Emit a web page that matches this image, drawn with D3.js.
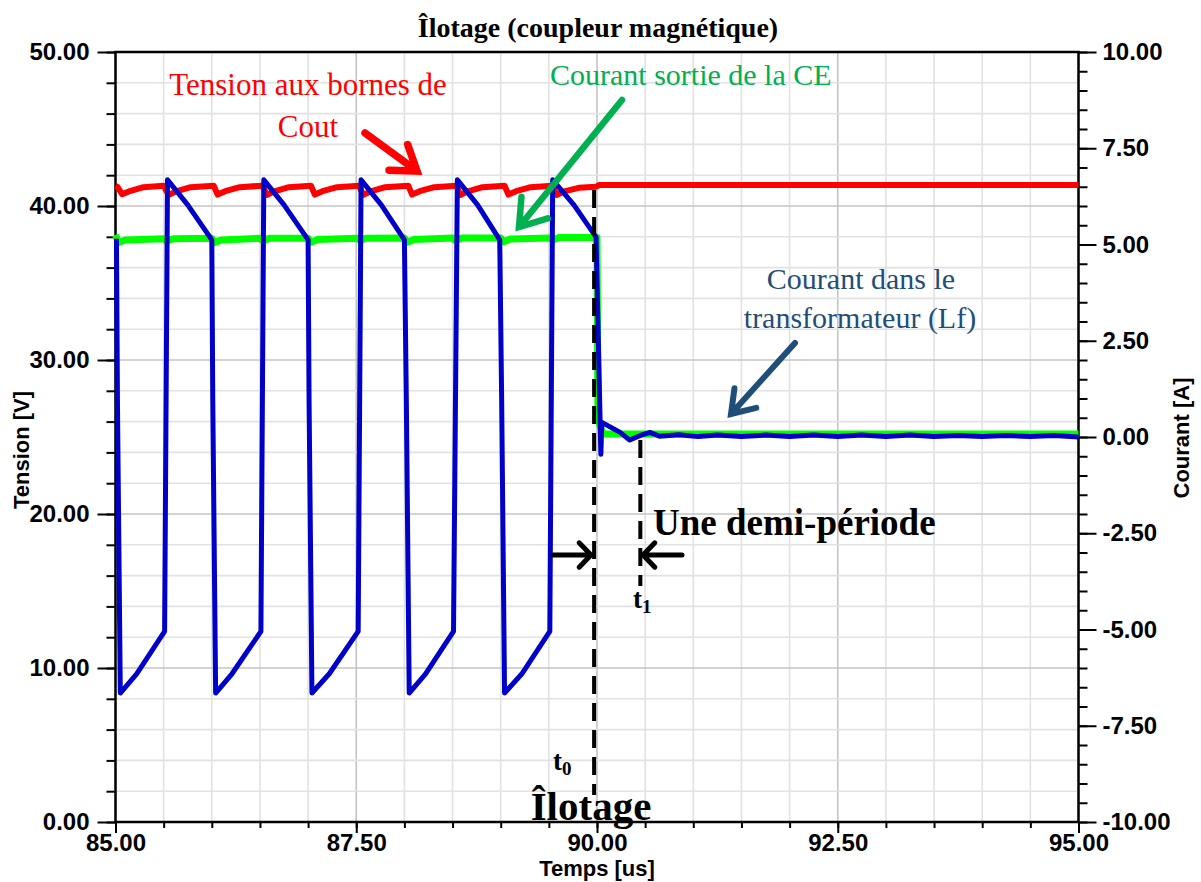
<!DOCTYPE html>
<html>
<head>
<meta charset="utf-8">
<script src="https://cdn.jsdelivr.net/npm/d3@7"></script>
<style>
body { margin: 0; background: #fff; }
</style>
</head>
<body>
<script>
// values: [temps (us), valeur]
const tensionCout = [
  [85.00, 41.30], [85.02, 41.25], [85.07, 40.76], [85.15, 40.97], [85.29, 41.22], [85.50, 41.32],
  [85.55, 40.72], [85.63, 40.95], [85.78, 41.22], [86.02, 41.32],
  [86.06, 40.74], [86.14, 40.96], [86.29, 41.22], [86.53, 41.32],
  [86.57, 40.72], [86.65, 40.95], [86.80, 41.22], [87.03, 41.32],
  [87.07, 40.74], [87.15, 40.96], [87.30, 41.22], [87.53, 41.32],
  [87.57, 40.72], [87.65, 40.95], [87.80, 41.22], [88.04, 41.32],
  [88.08, 40.74], [88.16, 40.96], [88.31, 41.22], [88.54, 41.32],
  [88.58, 40.72], [88.66, 40.95], [88.81, 41.22], [89.04, 41.32],
  [89.08, 40.74], [89.16, 40.96], [89.31, 41.22], [89.54, 41.32],
  [89.58, 40.72], [89.66, 40.95], [89.81, 41.18], [89.99, 41.25],
  [90.02, 41.36], [95.00, 41.36]
];

const courantCE = [
  [85.00, 5.25], [85.03, 5.05], [85.10, 5.12], [85.50, 5.15], [85.53, 5.09], [85.60, 5.15],
  [86.00, 5.16], [86.03, 5.05], [86.10, 5.12], [86.50, 5.16], [86.53, 5.10], [86.60, 5.16],
  [87.00, 5.16], [87.03, 5.06], [87.10, 5.13], [87.51, 5.16], [87.54, 5.10], [87.60, 5.16],
  [88.00, 5.17], [88.03, 5.06], [88.10, 5.13], [88.50, 5.17], [88.53, 5.10], [88.60, 5.17],
  [89.00, 5.17], [89.03, 5.07], [89.10, 5.14], [89.51, 5.17], [89.54, 5.11], [89.60, 5.18],
  [90.00, 5.18], [90.01, 0.45], [90.06, 0.08], [95.00, 0.08]
];

const courantLf = [
  [85.01, 5.15], [85.02, 0.96], [85.05, -6.65], [85.22, -6.15], [85.51, -5.05], [85.54, 6.68], [85.75, 6.03], [86.00, 5.12],
  [86.01, 0.96], [86.04, -6.65], [86.21, -6.15], [86.51, -5.05], [86.54, 6.68], [86.75, 6.03], [87.00, 5.12],
  [87.01, 0.96], [87.04, -6.65], [87.22, -6.15], [87.52, -5.05], [87.55, 6.68], [87.76, 6.03], [88.00, 5.12],
  [88.02, 0.96], [88.05, -6.65], [88.22, -6.15], [88.51, -5.05], [88.55, 6.68], [88.76, 6.03], [88.99, 5.12],
  [89.01, 0.96], [89.04, -6.65], [89.22, -6.15], [89.51, -5.05], [89.54, 6.68], [89.76, 6.03], [89.99, 5.19],
  [90.04, -0.45], [90.05, 0.38], [90.24, 0.12], [90.34, -0.08], [90.45, 0.04], [90.55, 0.12], [90.65, 0.02],
  [90.85, 0.06], [91.05, 0.01], [91.25, 0.05], [91.50, 0.01], [91.75, 0.05], [92.00, 0.01], [92.25, 0.05],
  [92.50, 0.01], [92.75, 0.05], [93.00, 0.01], [93.25, 0.05], [93.50, 0.01], [93.75, 0.04], [94.00, 0.01],
  [94.25, 0.04], [94.50, 0.01], [94.75, 0.04], [95.00, 0.00]
];

const xTicks = [85, 87.5, 90, 92.5, 95];
const yTicksV = [0, 10, 20, 30, 40, 50];
const yTicksA = [-10, -7.5, -5, -2.5, 0, 2.5, 5, 7.5, 10];
const t0 = 89.97, t1 = 90.45;

const W = 1201, H = 882, L = 115.5, R = 1078.5, T = 52, B = 822;
const sans = "'Liberation Sans', Arial, sans-serif";
const serif = "'Liberation Serif', 'Times New Roman', serif";

const svg = d3.select("body").append("svg")
    .attr("width", W)
    .attr("height", H);

const x = d3.scaleLinear().domain([85, 95]).range([L, R]);
const yV = d3.scaleLinear().domain([0, 50]).range([B, T]);
const yA = d3.scaleLinear().domain([-10, 10]).range([B, T]);

const isMult = (v, m) => Math.abs(v / m - Math.round(v / m)) < 1e-6;

// grille
svg.append("g").selectAll("line")
    .data(d3.range(85, 95.01, 0.5))
    .enter().append("line")
    .attr("x1", d => x(d)).attr("x2", d => x(d))
    .attr("y1", T).attr("y2", B)
    .attr("stroke", d => isMult(d - 85, 2.5) ? "#c4c4c4" : "#e2e2e2")
    .attr("stroke-width", 1.6);

svg.append("g").selectAll("line")
    .data(d3.range(0, 50.01, 2))
    .enter().append("line")
    .attr("x1", L).attr("x2", R)
    .attr("y1", d => yV(d)).attr("y2", d => yV(d))
    .attr("stroke", d => isMult(d, 10) ? "#c4c4c4" : "#e2e2e2")
    .attr("stroke-width", 1.6);

// axes (tiret simple pour les négatifs, comme l'original)
const fmt = d => d.toFixed(2);
function styleAxis(sel) {
    sel.select(".domain").remove();
    sel.selectAll(".tick line").attr("stroke", "#000").attr("stroke-width", 2);
    sel.selectAll(".tick text")
        .attr("fill", "#000")
        .style("font-family", sans)
        .style("font-weight", "bold")
        .style("font-size", "24px");
}

svg.append("g").attr("transform", `translate(${L},0)`)
    .call(d3.axisLeft(yV).tickValues(d3.range(0, 50.01, 2)).tickSize(9).tickSizeOuter(0).tickFormat(""))
    .call(styleAxis);
svg.append("g").attr("transform", `translate(${L},0)`)
    .call(d3.axisLeft(yV).tickValues(yTicksV).tickSize(18).tickSizeOuter(0).tickPadding(8).tickFormat(fmt))
    .call(styleAxis);

svg.append("g").attr("transform", `translate(${R},0)`)
    .call(d3.axisRight(yA).tickValues(d3.range(-10, 10.01, 0.5)).tickSize(9).tickSizeOuter(0).tickFormat(""))
    .call(styleAxis);
svg.append("g").attr("transform", `translate(${R},0)`)
    .call(d3.axisRight(yA).tickValues(yTicksA).tickSize(18).tickSizeOuter(0).tickPadding(6).tickFormat(fmt))
    .call(styleAxis);

svg.append("g").attr("transform", `translate(0,${B})`)
    .call(d3.axisBottom(x).tickValues(d3.range(85, 95.01, 0.5)).tickSize(6).tickSizeOuter(0).tickFormat(""))
    .call(styleAxis);
svg.append("g").attr("transform", `translate(0,${B})`)
    .call(d3.axisBottom(x).tickValues(xTicks).tickSize(11).tickSizeOuter(0).tickPadding(1).tickFormat(fmt))
    .call(styleAxis);

svg.append("rect")
    .attr("x", L).attr("y", T)
    .attr("width", R - L).attr("height", B - T)
    .attr("fill", "none")
    .attr("stroke", "#000")
    .attr("stroke-width", 2.5);

// courbes
const lineV = d3.line().x(d => x(d[0])).y(d => yV(d[1]));
const lineA = d3.line().x(d => x(d[0])).y(d => yA(d[1]));

svg.append("path").datum(tensionCout)
    .attr("d", lineV).attr("fill", "none")
    .attr("stroke", "#ff0000").attr("stroke-width", 6).attr("stroke-linejoin", "round");

svg.append("path").datum(courantCE)
    .attr("d", lineA).attr("fill", "none")
    .attr("stroke", "#00ff00").attr("stroke-width", 7).attr("stroke-linejoin", "round");

svg.append("path").datum(courantLf)
    .attr("d", lineA).attr("fill", "none")
    .attr("stroke", "#0000c8").attr("stroke-width", 5).attr("stroke-linejoin", "round");

// lignes t0 / t1
svg.append("line")
    .attr("x1", x(t0)).attr("x2", x(t0))
    .attr("y1", 190).attr("y2", 795)
    .attr("stroke", "#000").attr("stroke-width", 4).attr("stroke-dasharray", "18,9");
svg.append("line")
    .attr("x1", x(t1)).attr("x2", x(t1))
    .attr("y1", 440).attr("y2", 586)
    .attr("stroke", "#000").attr("stroke-width", 4).attr("stroke-dasharray", "18,9");

// flèches
function arrow(x1, y1, x2, y2, color, w, len, ang) {
    const a = Math.atan2(y2 - y1, x2 - x1);
    const p = d3.path();
    p.moveTo(x1, y1); p.lineTo(x2, y2);
    p.moveTo(x2 - len * Math.cos(a - ang), y2 - len * Math.sin(a - ang));
    p.lineTo(x2, y2);
    p.lineTo(x2 - len * Math.cos(a + ang), y2 - len * Math.sin(a + ang));
    svg.append("path").attr("d", p.toString())
        .attr("fill", "none").attr("stroke", color).attr("stroke-width", w)
        .attr("stroke-linecap", "round").attr("stroke-linejoin", "miter");
}
arrow(365, 133, 417, 171, "#ff0000", 7.5, 28, 0.6);
arrow(622, 100, 519, 227, "#00b050", 6.5, 30, 0.6);
arrow(795, 343, 731, 414, "#1f4e79", 6, 26, 0.6);
arrow(553, 555, 591, 555, "#000", 5, 17, 0.8);
arrow(682, 555, 643, 555, "#000", 5, 17, 0.8);

// textes
function label(txt, tx, ty, size, color, anchor, weight, family) {
    return svg.append("text")
        .attr("x", tx).attr("y", ty)
        .attr("text-anchor", anchor || "start")
        .attr("fill", color)
        .style("font-family", family || serif)
        .style("font-size", size + "px")
        .style("font-weight", weight || "normal")
        .text(txt);
}

label("Îlotage (coupleur magnétique)", 598, 37, 28, "#000", "middle", "bold");

label("Tension aux bornes de", 308, 95, 31, "#ff0000", "middle");
label("Cout", 308, 137, 31, "#ff0000", "middle");
label("Courant sortie de la CE", 550, 85, 30, "#00b050", "start");
label("Courant dans le", 861, 289, 30, "#1f4e79", "middle");
label("transformateur (Lf)", 860, 328, 30, "#1f4e79", "middle");
label("Une demi-période", 653, 535, 37, "#000", "start", "bold");

const tz = label("t", 553, 770, 27, "#000", "start", "bold");
tz.append("tspan").attr("dy", 5).style("font-size", "19px").text("0");
const tu = label("t", 633, 608, 27, "#000", "start", "bold");
tu.append("tspan").attr("dy", 5).style("font-size", "19px").text("1");

label("Îlotage", 591, 820, 41, "#000", "middle", "bold");

// titres des axes
label("Temps [us]", 597, 876, 22, "#000", "middle", "bold", sans);
label("Tension [V]", 0, 0, 22, "#000", "middle", "bold", sans)
    .attr("transform", "translate(29,450) rotate(-90)");
label("Courant [A]", 0, 0, 22, "#000", "middle", "bold", sans)
    .attr("transform", "translate(1189,438) rotate(-90)");
</script>
</body>
</html>
